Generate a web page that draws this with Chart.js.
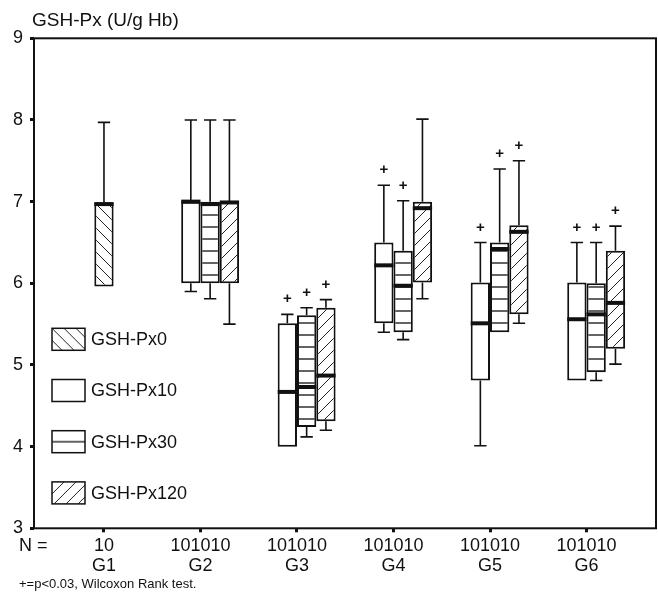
<!DOCTYPE html>
<html>
<head>
<meta charset="utf-8">
<script src="https://cdn.jsdelivr.net/npm/chart.js@4.4.0/dist/chart.umd.min.js"></script>
<style>
  html, body { margin: 0; padding: 0; background: #fff; }
  #wrap { width: 658px; height: 599px; }
</style>
</head>
<body>
<div id="wrap"><canvas id="gshChart" width="658" height="599"></canvas></div>
<script>
// GSH-Px box plot, groups G1..G6

const groups = ['G1', 'G2', 'G3', 'G4', 'G5', 'G6'];
const nLabels = ['10', '101010', '101010', '101010', '101010', '101010'];
const seriesNames = ['GSH-Px0', 'GSH-Px10', 'GSH-Px30', 'GSH-Px120'];
const yMin = 3, yMax = 9;

// GSH-Px0 (only measured in G1)
const px0Min = [5.96, null, null, null, null, null];
const px0Q1  = [5.96, null, null, null, null, null];
const px0Med = [6.97, null, null, null, null, null];
const px0Q3  = [6.99, null, null, null, null, null];
const px0Max = [7.97, null, null, null, null, null];
const px0Sig = [false, false, false, false, false, false];

// GSH-Px10
const px10Min = [null, 5.90, 4.00, 5.40, 4.01, 4.81];
const px10Q1  = [null, 6.00, 4.00, 5.51, 4.81, 4.81];
const px10Med = [null, 7.00, 4.67, 6.22, 5.51, 5.56];
const px10Q3  = [null, 7.00, 5.51, 6.50, 6.01, 6.01];
const px10Max = [null, 8.00, 5.62, 7.20, 6.50, 6.50];
const px10Sig = [false, false, true, true, true, true];

// GSH-Px30
const px30Min = [null, 5.81, 4.12, 5.31, 5.40, 4.81];
const px30Q1  = [null, 6.00, 4.24, 5.40, 5.40, 4.91];
const px30Med = [null, 6.97, 4.73, 5.97, 6.42, 5.62];
const px30Q3  = [null, 7.00, 5.61, 6.40, 6.50, 6.00];
const px30Max = [null, 8.00, 5.70, 7.01, 7.40, 6.50];
const px30Sig = [false, false, true, true, true, true];

// GSH-Px120
const px120Min = [null, 5.50, 4.20, 5.81, 5.51, 5.01];
const px120Q1  = [null, 6.00, 4.31, 6.01, 5.62, 5.20];
const px120Med = [null, 6.99, 4.87, 6.92, 6.63, 5.76];
const px120Q3  = [null, 7.00, 5.70, 7.00, 6.71, 6.40];
const px120Max = [null, 8.00, 5.80, 8.01, 7.50, 6.70];
const px120Sig = [false, false, true, false, true, true];

const unitLabel = 'GSH-Px (U/g Hb)';
const footNote = '+=p<0.03, Wilcoxon Rank test.';
const FONT = '"Liberation Sans", Arial, Helvetica, sans-serif';
const INK = '#111';

function hatch(kind) {
    const s = 12;
    const c = document.createElement('canvas');
    c.width = s; c.height = s;
    const g = c.getContext('2d');
    g.fillStyle = '#fff';
    g.fillRect(0, 0, s, s);
    g.strokeStyle = '#222';
    g.lineWidth = 1;
    g.beginPath();
    if (kind === 'back') {
        for (let k = -1; k <= 1; k++) { g.moveTo(k * s, 0); g.lineTo(k * s + s, s); }
    } else if (kind === 'fwd') {
        for (let k = -1; k <= 1; k++) { g.moveTo(k * s, s); g.lineTo(k * s + s, 0); }
    } else if (kind === 'horiz') {
        g.lineWidth = 1.4;
        g.moveTo(0, 11); g.lineTo(s, 11);
    }
    g.stroke();
    return g.createPattern(c, 'repeat');
}

function makeSeries(idx, fill, min, q1, med, q3, max, sig, extra) {
    return Object.assign({
        label: seriesNames[idx],
        data: q1.map((v, i) => ({ x: i, y: v == null ? null : [q1[i], q3[i]] })),
        backgroundColor: fill,
        borderColor: INK,
        borderWidth: 2,
        borderSkipped: false,
        categoryPercentage: 0.8,
        barPercentage: 1.0,
        stats: { min, q1, med, q3, max, sig }
    }, extra || {});
}

const datasets = [
    // G1 has only this series, so it is centred on its tick
    makeSeries(0, hatch('back'), px0Min, px0Q1, px0Med, px0Q3, px0Max, px0Sig,
        { skipNull: true, categoryPercentage: 0.2 }),
    makeSeries(1, hatch('none'), px10Min, px10Q1, px10Med, px10Q3, px10Max, px10Sig),
    makeSeries(2, hatch('horiz'), px30Min, px30Q1, px30Med, px30Q3, px30Max, px30Sig),
    makeSeries(3, hatch('fwd'), px120Min, px120Q1, px120Med, px120Q3, px120Max, px120Sig)
];

// whiskers, medians, significance marks
const boxMarks = {
    id: 'boxMarks',
    afterDatasetsDraw(chart) {
        const ctx = chart.ctx;
        const ys = chart.scales.y;
        ctx.save();
        ctx.strokeStyle = INK;
        ctx.fillStyle = INK;
        chart.data.datasets.forEach((ds, di) => {
            const st = ds.stats;
            chart.getDatasetMeta(di).data.forEach((bar, i) => {
                if (st.med[i] == null) return;
                const { x, width } = bar.getProps(['x', 'width'], true);
                const half = width / 2;
                const cap = width * 0.32;
                const pQ1 = ys.getPixelForValue(st.q1[i]);
                const pQ3 = ys.getPixelForValue(st.q3[i]);
                const pMin = ys.getPixelForValue(st.min[i]);
                const pMax = ys.getPixelForValue(st.max[i]);
                ctx.lineWidth = 1.6;
                ctx.beginPath();
                if (st.max[i] > st.q3[i]) {
                    ctx.moveTo(x, pQ3); ctx.lineTo(x, pMax);
                    ctx.moveTo(x - cap, pMax); ctx.lineTo(x + cap, pMax);
                }
                if (st.min[i] < st.q1[i]) {
                    ctx.moveTo(x, pQ1); ctx.lineTo(x, pMin);
                    ctx.moveTo(x - cap, pMin); ctx.lineTo(x + cap, pMin);
                }
                ctx.stroke();
                ctx.lineWidth = 4;
                ctx.beginPath();
                const pMed = ys.getPixelForValue(st.med[i]);
                ctx.moveTo(x - half, pMed); ctx.lineTo(x + half, pMed);
                ctx.stroke();
                if (st.sig[i]) {
                    ctx.font = 'bold 15px ' + FONT;
                    ctx.textAlign = 'center';
                    ctx.textBaseline = 'middle';
                    ctx.fillText('+', x, pMax - 15);
                }
            });
        });
        ctx.restore();
    }
};

// frame, legend box, unit label, N row and footnote
const extras = {
    id: 'extras',
    afterDraw(chart) {
        const ctx = chart.ctx;
        const a = chart.chartArea;
        ctx.save();
        ctx.strokeStyle = INK;
        ctx.lineWidth = 2;
        ctx.strokeRect(a.left, a.top, a.right - a.left, a.bottom - a.top);

        const bx = a.left + 18, bw = 33, bh = 22;
        chart.data.datasets.forEach((ds, i) => {
            const by = a.top + 290 + i * 51.2;
            ctx.save();
            ctx.translate(bx, by);
            ctx.fillStyle = ds.backgroundColor;
            ctx.fillRect(0, 0, bw, bh);
            ctx.restore();
            ctx.lineWidth = 1.5;
            ctx.strokeRect(bx, by, bw, bh);
            ctx.fillStyle = INK;
            ctx.font = '18px ' + FONT;
            ctx.textAlign = 'left';
            ctx.textBaseline = 'middle';
            ctx.fillText(ds.label, bx + bw + 6, by + bh / 2 + 1);
        });

        ctx.fillStyle = INK;
        ctx.textAlign = 'left';
        ctx.textBaseline = 'middle';
        ctx.font = '19px ' + FONT;
        ctx.fillText(unitLabel, a.left - 2, a.top - 18);
        ctx.font = '18px ' + FONT;
        ctx.fillText('N =', 19, a.bottom + 18);
        ctx.font = '13px ' + FONT;
        ctx.fillText(footNote, 19, a.bottom + 56);
        ctx.restore();
    }
};

Chart.defaults.font.family = FONT;
Chart.defaults.color = INK;

new Chart(document.getElementById('gshChart'), {
    type: 'bar',
    data: { datasets: datasets },
    options: {
        responsive: false,
        animation: false,
        layout: { padding: { left: 8, right: 2, top: 38.3, bottom: 0 } },
        plugins: {
            legend: { display: false },
            tooltip: { enabled: false }
        },
        scales: {
            x: {
                type: 'linear',
                stacked: false,
                offset: false,
                min: -0.725,
                max: 5.72,
                afterBuildTicks: s => { s.ticks = groups.map((g, i) => ({ value: i })); },
                afterFit: s => { s.height = 70.7; },
                border: { display: false },
                grid: { offset: false, drawOnChartArea: false, tickLength: 4, tickWidth: 3, tickColor: INK },
                ticks: {
                    padding: 4,
                    maxRotation: 0,
                    autoSkip: false,
                    font: { size: 18, lineHeight: 1.1 },
                    callback: v => [nLabels[v], groups[v]]
                }
            },
            y: {
                stacked: false,
                min: yMin,
                max: yMax,
                afterFit: s => { s.width = 26; },
                border: { display: false },
                grid: { drawOnChartArea: false, tickLength: 4, tickWidth: 3, tickColor: INK },
                ticks: { stepSize: 1, padding: 7, font: { size: 18 } }
            }
        }
    },
    plugins: [boxMarks, extras]
});
</script>
</body>
</html>
